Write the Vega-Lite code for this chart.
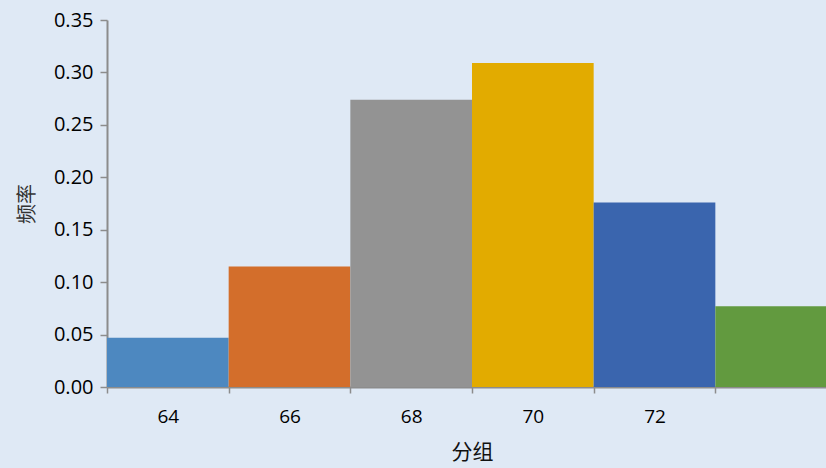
{
  "$schema": "https://vega.github.io/schema/vega-lite/v6.json",
  "autosize": "none",
  "width": 730,
  "height": 367,
  "padding": {"left": 107, "top": 20, "right": 0, "bottom": 81},
  "background": "#dfe9f5",
  "config": {"view": {"stroke": null}},
  "data": {"values": [
    {"start": 63, "end": 65, "freq": 0.047, "c": "a"},
    {"start": 65, "end": 67, "freq": 0.115, "c": "b"},
    {"start": 67, "end": 69, "freq": 0.274, "c": "c"},
    {"start": 69, "end": 71, "freq": 0.309, "c": "d"},
    {"start": 71, "end": 73, "freq": 0.176, "c": "e"},
    {"start": 73, "end": 75, "freq": 0.077, "c": "f"}
  ]},
  "mark": {"type": "bar", "clip": true},
  "encoding": {
    "x": {"field": "start", "type": "quantitative",
      "scale": {"domain": [63, 75], "nice": false, "zero": false},
      "axis": {
        "values": [63, 64, 65, 66, 67, 68, 69, 70, 71, 72, 73],
        "labelExpr": "datum.value % 2 == 0 ? datum.label : ''",
        "tickOpacity": {"expr": "datum.value % 2 == 0 ? 0 : 1"},
        "grid": false,
        "title": "分组",
        "titleFont": "Noto Sans CJK SC",
        "titleFontSize": 21,
        "titleFontWeight": "normal",
        "titleColor": "#111",
        "titlePadding": 15,
        "labelFont": "Open Sans",
        "labelFontSize": 19,
        "labelColor": "#000",
        "labelPadding": 14,
        "labelFlush": false,
        "domainColor": "#8c8c8c",
        "tickColor": "#8c8c8c",
        "domainWidth": 2,
        "tickWidth": 1.5,
        "tickSize": 6
      }
    },
    "x2": {"field": "end"},
    "y": {"field": "freq", "type": "quantitative",
      "scale": {"domain": [0, 0.35], "nice": false},
      "axis": {
        "values": [0, 0.05, 0.1, 0.15, 0.2, 0.25, 0.3, 0.35],
        "format": ".2f",
        "grid": false,
        "title": "频率",
        "titleFont": "Noto Sans CJK SC",
        "titleFontSize": 20,
        "titleFontWeight": "normal",
        "titleColor": "#333",
        "titlePadding": 16,
        "labelFont": "Open Sans",
        "labelFontSize": 20,
        "labelColor": "#000",
        "labelPadding": 7,
        "domainColor": "#8c8c8c",
        "tickColor": "#8c8c8c",
        "domainWidth": 2,
        "tickWidth": 1.5,
        "tickSize": 7
      }
    },
    "y2": {"datum": 0},
    "color": {"field": "c", "type": "nominal", "legend": null,
      "scale": {"domain": ["a", "b", "c", "d", "e", "f"],
        "range": ["#4d88c0", "#d36e2b", "#939393", "#e2ab00", "#3a65ae", "#629a3f"]}}
  }
}
